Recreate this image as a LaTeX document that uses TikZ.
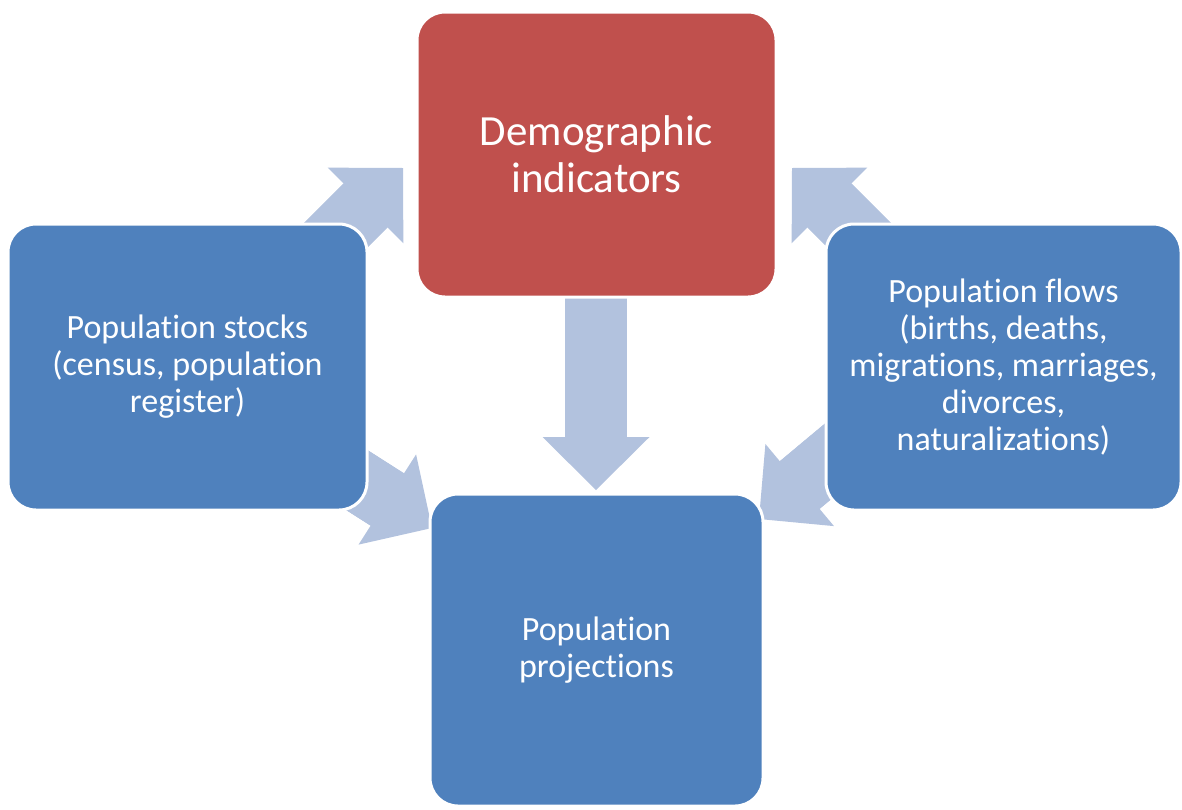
\documentclass[tikz,border=0pt]{standalone}
\usepackage{fontspec}
\setmainfont{Carlito}[Ligatures=NoCommon]
\usetikzlibrary{arrows.meta}
\definecolor{boxblue}{RGB}{79,129,189}
\definecolor{boxred}{RGB}{192,80,77}
\definecolor{flowblue}{RGB}{178,194,222}

\begin{document}
\begin{tikzpicture}[
        x=0.5pt, y=-0.5pt,
        box/.style={rectangle, rounded corners=14pt, draw=white, line width=1.5pt, text=white, align=center, font=\fontsize{17}{18.5}\selectfont},
        datbox/.style={box, fill=boxblue},
        keybox/.style={box, fill=boxred, font=\fontsize{21.5}{23.5}\selectfont},
        flow/.style={flowblue, line width=31pt, -{Triangle[width=53.5pt, length=26.5pt, line width=0pt]},
            postaction={draw, flowblue, line width=31pt, shorten >=20pt, -}}
    ]

    \useasboundingbox (0,0) rectangle (1182,809);

    \coordinate (down start) at (596,280);
    \coordinate (down tip) at (596,490);
    \coordinate (stocks up) at (300,271);
    \coordinate (ind left) at (403,168);
    \coordinate (flows up) at (895,271);
    \coordinate (ind right) at (792,168);
    \coordinate (stocks low) at (305,447);
    \coordinate (proj left) at (432,528);
    \coordinate (flows low) at (874,423);
    \coordinate (proj right) at (759,519);

    \draw[flow] (down start) -- (down tip);
    \draw[flow] (stocks up) -- (ind left);
    \draw[flow] (flows up) -- (ind right);
    \draw[flow] (stocks low) -- (proj left);
    \draw[flow] (flows low) -- (proj right);

    \node[keybox, minimum width=179.5pt, minimum height=142.5pt] (indicators) at (596.5,154.5) {Demographic\\indicators};
    \node[datbox, minimum width=179.5pt, minimum height=143pt] (stocks) at (187.5,367) {Population stocks\\(census, population\\register)};
    \node[datbox, minimum width=177.5pt, minimum height=143pt] (flows) at (1003.5,367) {Population flows\\(births, deaths,\\migrations, marriages,\\divorces,\\naturalizations)};
    \node[datbox, minimum width=166.5pt, minimum height=156pt] (projections) at (596.5,650) {Population\\projections};

\end{tikzpicture}
\end{document}
